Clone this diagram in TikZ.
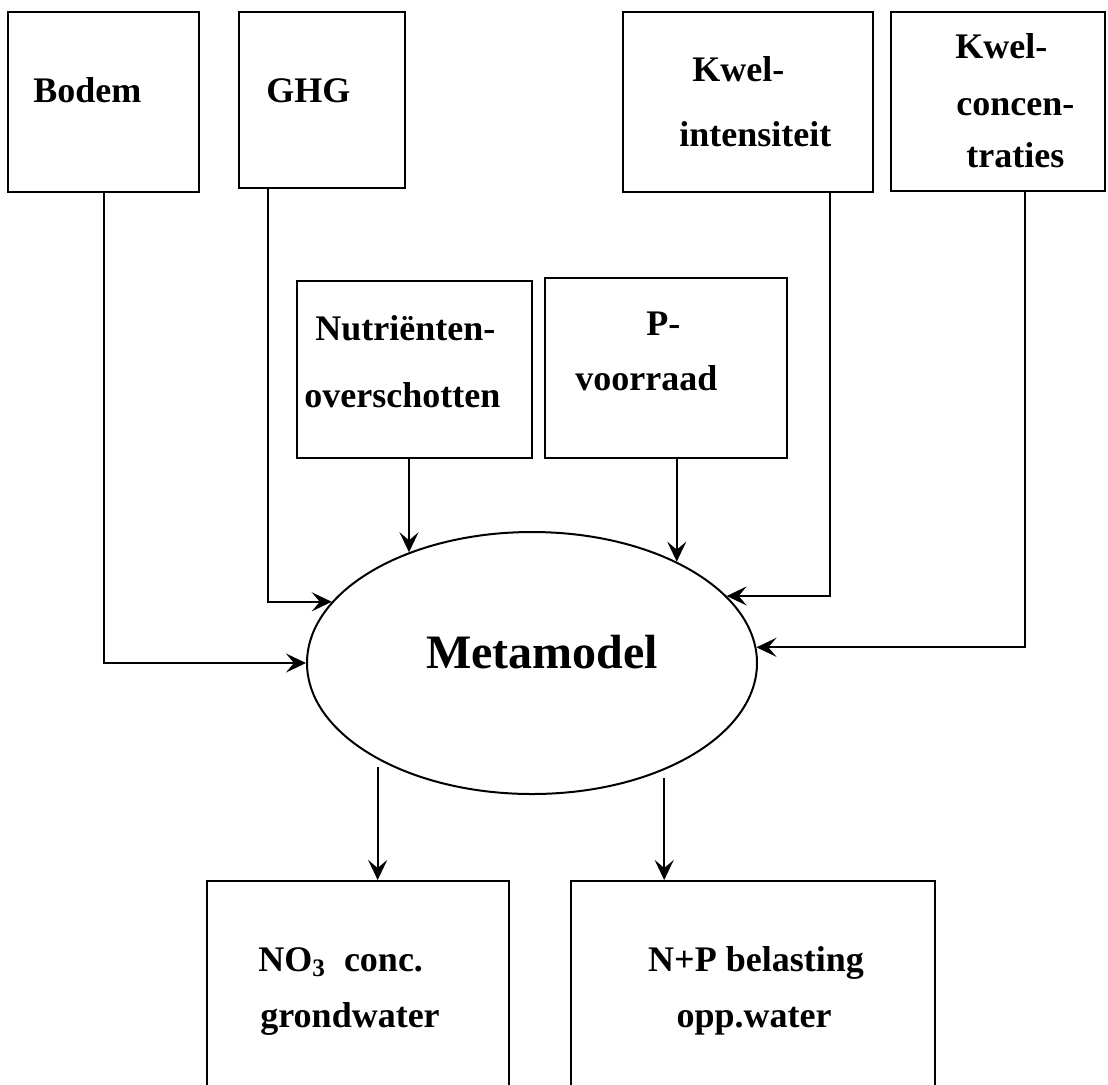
\documentclass[tikz,border=0pt]{standalone}
\usepackage{fontspec}
\setmainfont{Liberation Serif}
\usetikzlibrary{shapes.geometric, arrows.meta}

\begin{document}
\begin{tikzpicture}[x=0.5pt, y=-0.5pt,
        box/.style={draw, line width=1pt, inner sep=0pt},
        lbl/.style={font=\fontsize{18}{20}\selectfont\bfseries,
                    inner sep=0pt, anchor=base west},
        arr/.style={-{Stealth[length=10pt, width=9.5pt, inset=4pt]},
                    line width=1pt}]
      \clip (0,0) rectangle (1108,1084);
      % Invoer boven
      \node[box, minimum width=95.5pt, minimum height=90pt]  (bodem)  at (103.5,102) {};
      \node[box, minimum width=83pt,   minimum height=88pt]  (ghg)    at (322,100)   {};
      \node[box, minimum width=125pt,  minimum height=90pt]  (kwint)  at (748,102)   {};
      \node[box, minimum width=107pt,  minimum height=89.5pt] (kwconc) at (998,101.5) {};
      \node[box, minimum width=117.5pt, minimum height=88.5pt] (nutr) at (414.5,369.5) {};
      \node[box, minimum width=121pt,  minimum height=90pt]  (pvr)    at (666,368)   {};
      % Metamodel
      \node[ellipse, draw, line width=1pt, minimum width=225pt,
            minimum height=131pt, inner sep=0pt] (meta) at (532,663) {};
      % Uitvoer onder
      \node[box, minimum width=151pt, minimum height=109.5pt] (no3)    at (358,990.5) {};
      \node[box, minimum width=182pt, minimum height=109.5pt] (nplast) at (753,990.5) {};
      % Teksten
      \node[lbl] (bodem1)  at (33,102)  {Bodem};
      \node[lbl] (ghg1)    at (266,102) {GHG};
      \node[lbl] (kwint1)  at (692,81)  {Kwel-};
      \node[lbl] (kwint2)  at (679,146) {intensiteit};
      \node[lbl] (kwconc1) at (955,58)  {Kwel-};
      \node[lbl] (kwconc2) at (956,115) {concen-};
      \node[lbl] (kwconc3) at (966,167) {traties};
      \node[lbl] (nutr1)   at (315,340) {Nutriënten-};
      \node[lbl] (nutr2)   at (304,407) {overschotten};
      \node[lbl] (pvr1)    at (646,335) {P-};
      \node[lbl] (pvr2)    at (575,390) {voorraad};
      \node[lbl] (no31)    at (258,971) {NO\textsubscript{3}\ \ conc.};
      \node[lbl] (no32)    at (260,1027) {grondwater};
      \node[lbl, anchor=base] (nplast1) at (756,971)  {N+P belasting};
      \node[lbl, anchor=base] (nplast2) at (754,1027) {opp.water};
      \node[lbl, anchor=base, font=\fontsize{24}{28}\selectfont\bfseries]
            (metatxt) at (542,668) {Metamodel};
      % Pijlen naar metamodel
      \draw[arr] (bodem.south) |- (meta.west);
      \draw[arr] ([xshift=15pt]ghg.south west) |- (meta.163);
      \draw[arr] (meta.138 |- nutr.south) -- (meta.138);
      \draw[arr] (meta.35 |- pvr.south) -- (meta.35);
      \draw[arr] ([xshift=-22pt]kwint.south east) |- (meta.19);
      \draw[arr] ([xshift=13.5pt]kwconc.south) |- (meta.4);
      % Pijlen naar uitvoer
      \draw[arr, shorten <=4pt] (meta.212) -- (meta.212 |- no3.north);
      \draw[arr, shorten <=4pt] (meta.321) -- (meta.321 |- nplast.north);
\end{tikzpicture}
\end{document}
